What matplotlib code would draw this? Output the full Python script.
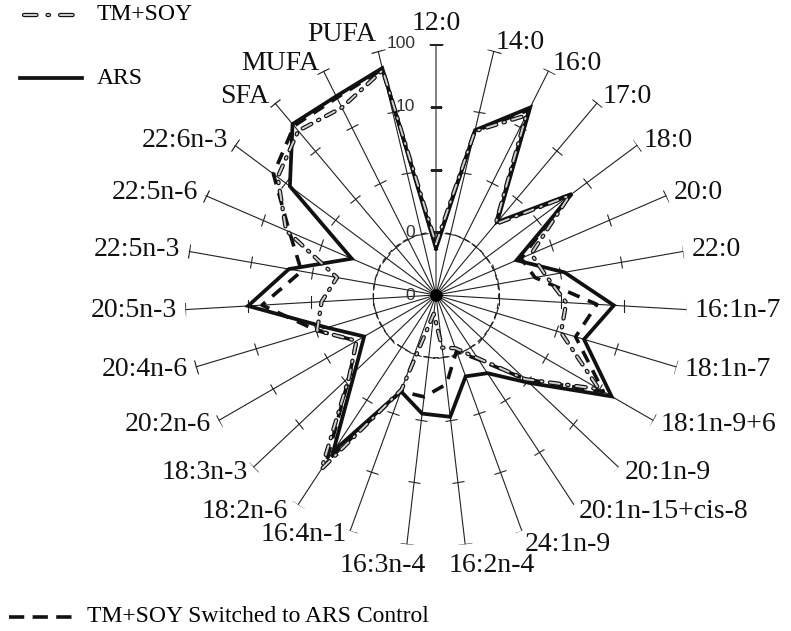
import numpy as np
import matplotlib
matplotlib.use('Agg')
import matplotlib.pyplot as plt
from matplotlib.markers import MarkerStyle
from matplotlib.transforms import Affine2D
import matplotlib.patheffects as pe
from matplotlib.lines import Line2D
from matplotlib.ticker import NullLocator

plt.rcParams['font.family'] = ['Liberation Serif', 'DejaVu Serif']
plt.rcParams['lines.scale_dashes'] = False

# ---------------- data ----------------
labels = ['12:0', '14:0', '16:0', '17:0', '18:0', '20:0', '22:0',
          '16:1n-7', '18:1n-7', '18:1n-9+6', '20:1n-9', '20:1n-15+cis-8',
          '24:1n-9', '16:2n-4', '16:3n-4', '16:4n-1', '18:2n-6', '18:3n-3',
          '20:2n-6', '20:4n-6', '20:5n-3', '22:5n-3', '22:5n-6', '22:6n-3',
          'SFA', 'MUFA', 'PUFA']
ars = [0.055, 5.0, 22, 0.33, 5.0, 0.25, 1.2,
       6.9, 2.9, 17, 1.1, 0.31,
       0.24, 0.9, 0.8, 0.43, 9.5, 0.6,
       0.21, 0.65, 10, 2.4, 0.29, 8,
       36, 35, 52]
tm_soy = [0.065, 4.8, 16, 0.3, 4.5, 0.45, 0.6,
          1.2, 1.2, 10, 0.9, 0.16,
          0.08, 0.07, 0.02, 0.4, 21, 0.8,
          0.29, 0.95, 0.67, 0.4, 4.0, 14,
          26, 22, 48]
switched = [0.06, 4.8, 20, 0.3, 4.5, 0.3, 0.4,
            3.7, 2.1, 12, 0.9, 0.17,
            0.09, 0.27, 0.43, 0.43, 15, 0.8,
            0.29, 0.95, 6, 1.5, 3.5, 17,
            33, 33, 50]
r_ticks = [0.01, 0.1, 1, 10, 100]
r_tick_labels = ['0', '0', '', '10', '100']
legend_labels = ['TM+SOY', 'ARS', 'TM+SOY Switched to ARS Control']

# ---------------- figure ----------------
W, H = 791, 631
fig = plt.figure(figsize=(W / 100, H / 100), dpi=100)
cx, cy, R = 436, 295, 251
ax = fig.add_axes([(cx - R) / W, (H - cy - R) / H, 2 * R / W, 2 * R / H],
                  projection='polar')
ax.set_theta_zero_location('N')
ax.set_theta_direction(-1)
ax.set_rscale('log')
ax.set_rlim(r_ticks[0], r_ticks[-1])
ax.grid(False)
ax.set_xticks([])
ax.set_yticks([])
ax.yaxis.set_minor_locator(NullLocator())
ax.spines['polar'].set_visible(False)
ax.patch.set_visible(False)

N = len(labels)
theta = np.arange(N) * 2 * np.pi / N
spoke_col = '#222222'

# spokes with ticks
for t in theta:
    deg = np.degrees(t)
    ax.plot([t, t], [r_ticks[0], r_ticks[-1]], color=spoke_col, lw=0.8,
            zorder=1, snap=False)
    m = MarkerStyle('_', transform=Affine2D().rotate_deg(-deg))
    ax.plot([t] * 3, r_ticks[1:4], ls='none', marker=m, ms=9, mew=0.8,
            color=spoke_col, zorder=1, snap=False)
    ax.plot([t], [r_ticks[-1]], ls='none', marker=m, ms=10, mew=0.9,
            color=spoke_col, zorder=1, snap=False)

# dashed inner circle
tc = np.linspace(0, 2 * np.pi, 400)
ax.plot(tc, np.full_like(tc, r_ticks[1]), color=spoke_col, lw=0.9,
        ls=(0, (4, 3)), zorder=1)
ax.plot([0], [r_ticks[0]], 'o', color='black', ms=8, zorder=2)

# radial labels
for r, lab in zip(r_ticks, r_tick_labels):
    if lab:
        ax.annotate(lab, xy=(0, r), xytext=(-15, 0), textcoords='offset points',
                    ha='right', va='center', fontsize=12.5, color='#333',
                    family=['Liberation Sans', 'DejaVu Sans'])

# category labels (extra pixel nudges for a few crowded labels)
nudge = {'PUFA': (0, 8), '16:3n-4': (-23, 0), '16:2n-4': (26, 0),
         '24:1n-9': (0, -6), '18:2n-6': (-6, 0), '16:4n-1': (0, 4)}
for t, lab in zip(theta, labels):
    s, c = np.sin(t), np.cos(t)
    if s > 0.08:
        ha = 'left'
    elif s < -0.08:
        ha = 'right'
    else:
        ha = 'center'
    if c > 0.98:
        va = 'bottom'
    elif c < -0.98:
        va = 'top'
    else:
        va = 'center'
    off = 6
    dx, dy = nudge.get(lab, (0, 0))
    if lab in ('16:3n-4', '16:2n-4'):
        ha = 'center'
    ax.annotate(lab, xy=(t, r_ticks[-1]),
                xytext=(off * s + dx * 0.72, off * c + dy * 0.72),
                textcoords='offset points', ha=ha, va=va, fontsize=20,
                color='#111')

# ---------------- series ----------------
tc_closed = np.append(theta, theta[0])


def closed(v):
    return np.append(v, v[0])


tm_dash = (0, (7, 5.5, 1.0, 5.5))
sw_dash = (0, (9, 6.5))

tm_style = dict(color='#cfcfcf', lw=1.4, ls=tm_dash, dash_capstyle='round',
                path_effects=[pe.Stroke(linewidth=3.1, foreground='#111'),
                              pe.Normal()])
ars_style = dict(color='#111', lw=2.7, solid_joinstyle='miter')
sw_style = dict(color='#111', lw=2.6, ls=sw_dash, dash_capstyle='butt')

ax.plot(tc_closed, closed(ars), zorder=4, **ars_style)
ax.plot(tc_closed, closed(switched), zorder=3, **sw_style)
ax.plot(tc_closed, closed(tm_soy), zorder=5, **tm_style)

# ---------------- legend (manual) ----------------
def fx(x):
    return x / W


def fy(y):
    return (H - y) / H


leg_tm = dict(tm_style)
leg_tm['ls'] = (0, (9, 8, 1.0, 8))
fig.add_artist(Line2D([fx(24), fx(78)], [fy(15), fy(15)], transform=fig.transFigure,
                      **leg_tm))
fig.text(fx(97), fy(15), legend_labels[0], fontsize=17, va='center', ha='left')
fig.add_artist(Line2D([fx(20), fx(82)], [fy(78), fy(78)], transform=fig.transFigure,
                      **ars_style))
fig.text(fx(97), fy(78), legend_labels[1], fontsize=17, va='center', ha='left')
leg_sw = dict(sw_style)
leg_sw['ls'] = (0, (11, 6))
fig.add_artist(Line2D([fx(9), fx(74)], [fy(617), fy(617)], transform=fig.transFigure,
                      **leg_sw))
fig.text(fx(87), fy(617), legend_labels[2], fontsize=17, va='center', ha='left')

fig.savefig('out.png', dpi=100)
